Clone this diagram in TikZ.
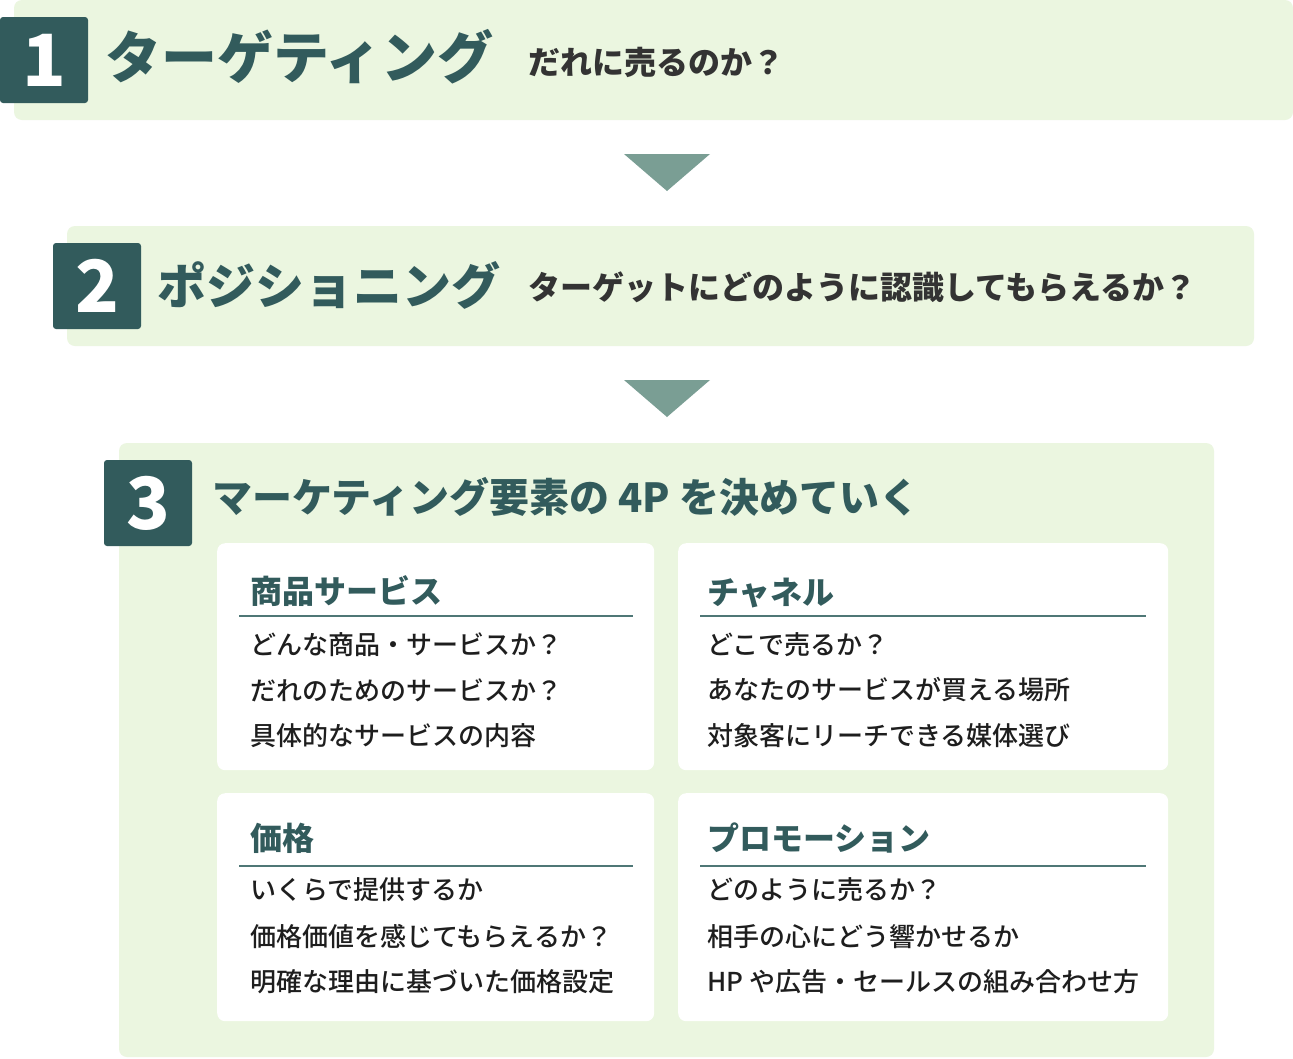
\documentclass[tikz,border=0pt]{standalone}
\usepackage{fontspec}
\setmainfont{Noto Sans CJK JP}
\IfFontExistsTF{Noto Sans CJK JP Medium}
  {\newfontfamily\medfont{Noto Sans CJK JP Medium}}
  {\newfontfamily\medfont{Noto Sans CJK JP}[FakeBold=0.3]}
\definecolor{teal}{HTML}{325B5C}
\definecolor{bandbg}{HTML}{EBF6E0}
\definecolor{arrowc}{HTML}{7A9E94}
\definecolor{sub}{HTML}{333333}
\definecolor{body}{HTML}{1E1E1E}
\definecolor{rulec}{HTML}{4F7776}
\begin{document}
\begin{tikzpicture}[x=1pt,y=-1pt,
  band/.style={fill=bandbg, rounded corners=8pt},
  numbox/.style={fill=teal, rounded corners=3pt, minimum width=88pt, minimum height=86pt, inner sep=0pt, text=white, font=\bfseries\fontsize{72}{72}\selectfont},
  lbl/.style={anchor=west, inner sep=0pt},
  bigtitle/.style={lbl, text=teal, font=\bfseries\fontsize{#1}{#1}\selectfont},
  subtitle/.style={lbl, text=sub, font=\bfseries\fontsize{32}{32}\selectfont},
  cardbox/.style={fill=white, rounded corners=8pt, anchor=north west, inner sep=0pt},
  cardhead/.style={lbl, text=teal, font=\bfseries\fontsize{32}{32}\selectfont},
  cardline/.style={lbl, text=body, font=\medfont\fontsize{26}{26}\selectfont},
  rule/.style={draw=rulec, line width=1.5pt},
  tri/.style={fill=arrowc}
]
\useasboundingbox (0,0) rectangle (1293,1058);
\fill[white] (0,0) rectangle (1293,1058);

% band 1
\fill[band] (14,0) rectangle (1293,120);
\node[numbox] (n1) at (44,60) {1};
\node[bigtitle=56] (t1) at (105,57) {ターゲティング};
\node[subtitle] (s1) at (528,62) {だれに売るのか？};

% arrow 1
\fill[tri] (624,154) -- (710,154) -- (667,191) -- cycle;

% band 2
\fill[band] (67,226) rectangle (1254,346);
\node[numbox] (n2) at (97,286) {2};
\node[bigtitle=49] (t2) at (157,285) {ポジショニング};
\node[subtitle] (s2) at (528,287) {ターゲットにどのように認識してもらえるか？};

% arrow 2
\fill[tri] (624,380) -- (710,380) -- (667,417) -- cycle;

% band 3
\fill[band] (119,443) rectangle (1214,1057);
\node[numbox] (n3) at (148,503) {3};
\node[bigtitle=40] (t3) at (212,497) {マーケティング要素の 4P を決めていく};

% cards
\node[cardbox, minimum width=437pt, minimum height=227pt] (c1) at (217,543) {};
\node[cardbox, minimum width=490pt, minimum height=227pt] (c2) at (678,543) {};
\node[cardbox, minimum width=437pt, minimum height=228pt] (c3) at (217,793) {};
\node[cardbox, minimum width=490pt, minimum height=228pt] (c4) at (678,793) {};

% card 1
\node[cardhead] (h1) at (250,591) {商品サービス};
\draw[rule] (239,616) -- (633,616);
\node[cardline] (l11) at (250,645) {どんな商品・サービスか？};
\node[cardline] (l12) at (250,690) {だれのためのサービスか？};
\node[cardline] (l13) at (250,736) {具体的なサービスの内容};

% card 2
\node[cardhead] (h2) at (707,593) {チャネル};
\draw[rule] (700,616) -- (1146,616);
\node[cardline] (l21) at (707,645) {どこで売るか？};
\node[cardline] (l22) at (707,690) {あなたのサービスが買える場所};
\node[cardline] (l23) at (707,736) {対象客にリーチできる媒体選び};

% card 3
\node[cardhead] (h3) at (250,838) {価格};
\draw[rule] (239,866) -- (633,866);
\node[cardline] (l31) at (250,890) {いくらで提供するか};
\node[cardline] (l32) at (250,937) {価格価値を感じてもらえるか？};
\node[cardline] (l33) at (250,982) {明確な理由に基づいた価格設定};

% card 4
\node[cardhead] (h4) at (707,838) {プロモーション};
\draw[rule] (700,866) -- (1146,866);
\node[cardline] (l41) at (707,890) {どのように売るか？};
\node[cardline] (l42) at (707,937) {相手の心にどう響かせるか};
\node[cardline] (l43) at (707,982) {HP や広告・セールスの組み合わせ方};
\end{tikzpicture}
\end{document}
